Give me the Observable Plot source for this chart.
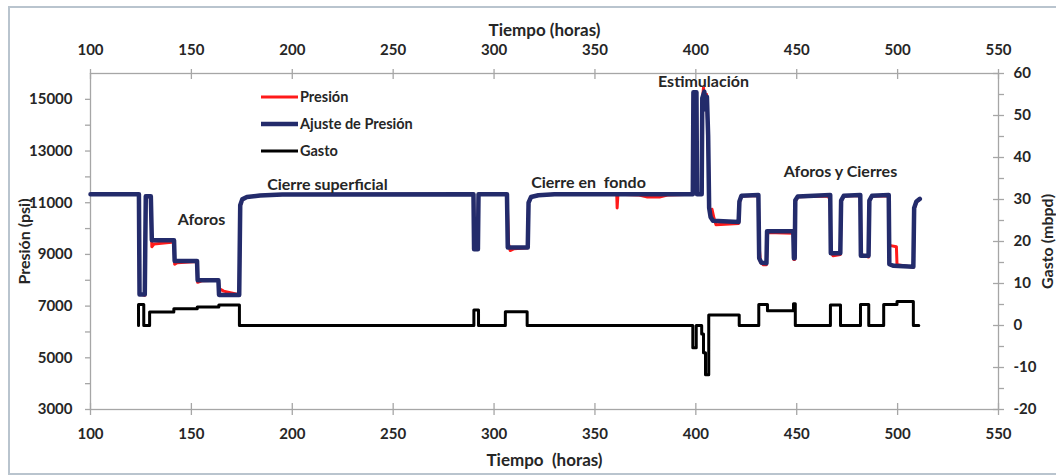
<!DOCTYPE html>
<html><head><meta charset="utf-8">
<script src="https://cdn.jsdelivr.net/npm/d3@7"></script>
<script src="https://cdn.jsdelivr.net/npm/@observablehq/plot@0.6"></script>
<style>
html,body{margin:0;padding:0;background:#fff;}
#chart{width:1056px;height:476px;overflow:hidden;position:relative;}
</style></head><body><div id="chart"></div>
<script>
// ---- data ----
const fitT = [100,124.0,124.3,126.9,127.4,129.9,130.4,141.4,141.7,152.8,153.1,163.4,163.7,173.7,174.2,175.2,177.5,184,195,
  289.8,290.1,292.0,292.3,306.4,306.8,316.7,317.1,318.3,322,330,
  398.5,398.8,400.3,400.6,402.9,403.2,404.2,404.9,405.5,406.1,406.6,407.3,408.5,421.2,421.6,422.6,431.0,431.4,432.5,435.0,435.3,
  448.3,448.6,449.0,449.3,450.5,466.6,466.9,471.6,472.0,473.3,481.5,481.8,485.6,486.0,487.3,495.6,495.9,498,507.8,508.2,509.3,511];
const fitP = [11330,11330,7450,7450,11250,11250,9550,9550,8750,8750,8000,8000,7430,7430,10900,11130,11220,11280,11320,
  11330,9200,9200,11330,11330,9270,9270,11000,11220,11290,11330,
  11330,15270,15270,11330,11330,15050,15300,14600,15100,13600,10800,10450,10300,10250,11050,11270,11300,8850,8680,8660,9900,
  9900,8850,8850,11100,11240,11300,9050,9050,11080,11270,11300,8950,8950,11080,11270,11300,8620,8560,8520,10800,11050,11150];

const presT = [100,124.0,124.3,126.9,127.4,129.9,130.4,131.5,141.4,141.7,143,152.8,153.1,155,163.4,163.7,166,173.7,174.2,175.2,177.5,184,195,
  289.8,290.1,292.0,292.3,306.4,307.2,308,310,316.7,317.1,318.3,322,330,360.8,361.0,361.4,372,376,382,386,
  398.5,398.8,400.3,400.6,402.9,403.2,403.8,404.6,405.3,406.1,406.6,407.2,408,409,410,421.2,421.6,422.6,431.0,431.3,432,433.5,435.0,435.3,
  448.3,448.6,449.0,449.3,450.5,465.5,466.6,466.9,468,471.6,472.0,473.3,481.5,481.8,485.6,486.0,487.3,495.0,495.6,495.9,499.4,499.7,507.8,508.2,509.3,511];
const presP = [11330,11330,7480,7420,11230,11230,9300,9400,9480,8620,8680,8730,7920,7980,8000,7680,7580,7440,10850,11120,11220,11280,11320,
  11330,9250,9250,11330,11330,9400,9150,9220,9260,11000,11220,11290,11330,11330,10800,11330,11300,11220,11220,11300,
  11330,15200,15200,11330,11330,14900,15450,14800,15200,13500,10900,10600,10750,10400,10150,10200,11000,11260,11280,9400,8700,8600,8600,9850,
  9820,8800,8800,11050,11230,11260,11100,9100,8950,9000,11050,11260,11280,9000,8900,11050,11260,11260,11200,9350,9300,8600,8500,10750,11030,11130];

const gastoT = [123.8,123.8,126.4,129.3,141.3,152.9,163.6,173.8,290.0,292.3,305.6,316.4,398.5,400.2,402.9,403.8,404.8,406.4,421.5,431.2,435.5,448.4,449.3,466.7,471.7,481.6,485.7,493.1,499.7,507.8,510.5];
const gastoG = [0,5,0,3.2,4.0,4.4,4.9,0,3.7,0,3.3,0,-5.3,0,-2,-6.5,-11.7,2.5,0,5,3.5,5.2,0,4.9,0,5,0,5,5.7,0,0];

const xTicks = [100,150,200,250,300,350,400,450,500,550];
const pTicks = [3000,5000,7000,9000,11000,13000,15000];
const pMinor = [4000,6000,8000,10000,12000,14000];
const gTicks = [-20,-10,0,10,20,30,40,50,60];
const gMinor = [-15,-5,5,15,25,35,45,55];

const annLabels = ["Aforos","Cierre superficial","Cierre en\u00a0 fondo","Estimulación","Aforos y Cierres"];
const annT = [155.0,217.4,346.8,403.8,471.7];
const annP = [10340,11700,11776,15660,12200];

const legendLabels = ["Presión","Ajuste de Presión","Gasto"];
const legendColors = ["#ff1a1a","#232b6b","#000000"];
const legendWidths = [3,4.5,3];

// ---- setup ----
const pDomain = [3000,16000], gDomain = [-20,60];
const g2p = g => pDomain[0] + (g - gDomain[0]) * (pDomain[1]-pDomain[0]) / (gDomain[1]-gDomain[0]);
const fit = fitT.map((t,i)=>({t, p: fitP[i]}));
const pres = presT.map((t,i)=>({t, p: presP[i]}));
const gasto = gastoT.map((t,i)=>({t, g: gastoG[i]}));

const W = 1056, H = 476, mL = 90, mR = 58, mT = 73, mB = 67;
const iw = W - mL - mR, ih = H - mT - mB;
const axisCol = "#a6a6a6", txtCol = "#262626";
const font = "Lato, 'Open Sans', sans-serif";

const border = () => {
  const r = d3.create("svg:rect").attr("x",9).attr("y",7).attr("width",1100).attr("height",467)
    .attr("fill","none").attr("stroke","#b9c4ce").attr("stroke-width",2);
  return r.node();
};
const legend = () => {
  const g = d3.create("svg:g");
  legendLabels.forEach((lab,i)=>{
    const y = 97 + i*27;
    g.append("line").attr("x1",261).attr("x2",298).attr("y1",y).attr("y2",y)
      .attr("stroke",legendColors[i]).attr("stroke-width",legendWidths[i]);
    g.append("text").attr("x",300).attr("y",y).attr("dy","0.35em").text(lab)
      .attr("text-anchor","start")
      .attr("font-size",14.5).attr("font-weight","bold").attr("fill",txtCol).attr("font-family",font);
  });
  return g.node();
};

const chart = Plot.plot({
  width: W, height: H, marginLeft: mL, marginRight: mR, marginTop: mT, marginBottom: mB,
  x: {domain: [100,550], axis: null},
  y: {domain: pDomain, axis: null},
  style: {fontFamily: font, fontSize: "15px", fontWeight: "bold", color: txtCol, background: "#fff"},
  marks: [
    border,
    Plot.frame({stroke: axisCol, strokeWidth: 1.3}),
    Plot.axisX(xTicks, {anchor: "top", tickSize: 5, tickPadding: 14, stroke: axisCol, fill: txtCol, label: null, strokeWidth: 1.3}),
    Plot.axisX(xTicks, {anchor: "bottom", tickSize: 6, tickPadding: 13, stroke: axisCol, fill: txtCol, label: null, strokeWidth: 1.3}),
    Plot.tickX(xTicks, {x: d=>d, insetBottom: ih-6, stroke: axisCol, strokeWidth: 1.3}),
    Plot.tickX(xTicks, {x: d=>d, insetTop: ih-6, stroke: axisCol, strokeWidth: 1.3}),
    Plot.axisY(pTicks, {anchor: "left", tickSize: 5, tickPadding: 13, stroke: axisCol, fill: txtCol, label: null, tickFormat: d=>String(d), strokeWidth: 1.3}),
    Plot.axisY(pMinor, {anchor: "left", tickSize: 5, stroke: axisCol, label: null, tickFormat: ()=>"", strokeWidth: 1.3}),
    Plot.axisY(gTicks.map(g2p), {anchor: "right", tickSize: 5, tickPadding: 10, stroke: axisCol, fill: txtCol, label: null,
      tickFormat: p => String(Math.round(gDomain[0] + (p - pDomain[0]) * (gDomain[1]-gDomain[0]) / (pDomain[1]-pDomain[0]))), strokeWidth: 1.3}),
    Plot.axisY(gMinor.map(g2p), {anchor: "right", tickSize: 5, stroke: axisCol, label: null, tickFormat: ()=>"", strokeWidth: 1.3}),
    Plot.tickY(gTicks.map(g2p), {y: d=>d, insetLeft: iw-5, stroke: axisCol, strokeWidth: 1.3}),
    Plot.text(["Tiempo (horas)"], {frameAnchor: "top", dy: -50, fill: txtCol, fontSize: 17}),
    Plot.text(["Tiempo\u00a0 (horas)"], {frameAnchor: "bottom", dy: 56, fill: txtCol, fontSize: 17}),
    Plot.text(["Presión (psi)"], {frameAnchor: "left", dx: -66, rotate: -90, textAnchor: "middle", fill: txtCol, fontSize: 16}),
    Plot.text(["Gasto (mbpd)"], {frameAnchor: "right", dx: 49, rotate: -90, textAnchor: "middle", fill: txtCol, fontSize: 16}),
    Plot.line(gasto, {x: "t", y: d => g2p(d.g), curve: "step-after", stroke: "#000", strokeWidth: 3}),
    Plot.line(pres, {x: "t", y: "p", stroke: "#ff1a1a", strokeWidth: 3, strokeLinejoin: "round"}),
    Plot.line(fit, {x: "t", y: "p", stroke: "#232b6b", strokeWidth: 4.5, strokeLinejoin: "round", strokeLinecap: "round"}),
    Plot.text(annLabels, {x: (d,i)=>annT[i], y: (d,i)=>annP[i], text: d=>d, fill: txtCol, fontSize: 16}),
    legend
  ]
});
document.getElementById("chart").appendChild(chart);
</script></body></html>
